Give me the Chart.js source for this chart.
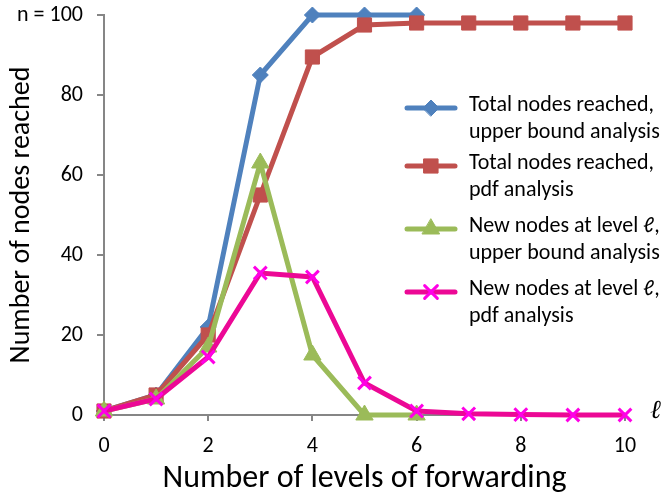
<!DOCTYPE html>
<html>
<head>
<meta charset="utf-8">
<script src="https://cdn.jsdelivr.net/npm/chart.js@4.4.0/dist/chart.umd.min.js"></script>
<style>
  html, body { margin: 0; padding: 0; background: #fff; }
  #wrap { width: 663px; height: 498px; position: relative; }
</style>
</head>
<body>
<div id="wrap"><canvas id="chart"></canvas></div>
<script>
// levels of forwarding (x axis)
const levels = [0, 1, 2, 3, 4, 5, 6, 7, 8, 9, 10];
const yTicks = [0, 20, 40, 60, 80, 100];

// series
const totalUpper = [1, 5, 22, 85, 100, 100, 100];
const totalPdf = [1, 5, 20, 55, 89.5, 97.5, 98, 98, 98, 98, 98];
const newUpper = [1, 4, 17, 63, 15, 0, 0];
const newPdf = [1, 4, 14.5, 35.5, 34.5, 8, 1, 0.3, 0.1, 0, 0];

const seriesLabels = [
  ['Total nodes reached,', 'upper bound analysis'],
  ['Total nodes reached,', 'pdf analysis'],
  ['New nodes at level \u2113,', 'upper bound analysis'],
  ['New nodes at level \u2113,', 'pdf analysis']
];

const FONT = 'Carlito, Lato, "Open Sans", sans-serif';
const AXIS = '#868686';

function pts(vals) {
  return vals.map((v, i) => ({ x: levels[i], y: v }));
}

function makeSet(i, vals, color, ptColor, style, radius, order) {
  return {
    label: seriesLabels[i].join(' '),
    data: pts(vals),
    borderColor: color,
    backgroundColor: ptColor,
    pointBackgroundColor: ptColor,
    pointBorderColor: ptColor,
    pointBorderWidth: style === 'crossRot' ? 3 : 1,
    pointStyle: style,
    pointRadius: radius,
    borderWidth: 5,
    tension: 0,
    clip: false,
    order: order
  };
}

const datasets = [
  makeSet(0, totalUpper, '#4F81BD', '#4F81BD', 'rectRot', 8, 3),
  makeSet(1, totalPdf, '#C0504D', '#C0504D', 'rect', 10, 2),
  makeSet(2, newUpper, '#9BBB59', '#9BBB59', 'triangle', 10, 1),
  makeSet(3, newPdf, '#EC0895', '#FF00E6', 'crossRot', 9, 0)
];

// legend drawn inside the plot area, two text lines per entry
const insideLegend = {
  id: 'insideLegend',
  afterDatasetsDraw(chart) {
    const ctx = chart.ctx;
    const x0 = 407, x1 = 455, tx = 469;
    const rows = [108, 166, 229, 292];
    ctx.save();
    datasets.forEach((ds, i) => {
      const y = rows[i];
      ctx.strokeStyle = ds.borderColor;
      ctx.lineWidth = 5;
      ctx.lineCap = 'round';
      ctx.beginPath();
      ctx.moveTo(x0, y);
      ctx.lineTo(x1, y);
      ctx.stroke();
      ctx.fillStyle = ds.pointBackgroundColor;
      ctx.strokeStyle = ds.pointBorderColor;
      ctx.lineWidth = ds.pointBorderWidth;
      Chart.helpers.drawPoint(ctx, { pointStyle: ds.pointStyle, radius: ds.pointRadius, rotation: 0, borderWidth: ds.pointBorderWidth }, (x0 + x1) / 2, y);
      ctx.fillStyle = '#000';
      ctx.font = '22px ' + FONT;
      ctx.textBaseline = 'middle';
      ctx.textAlign = 'left';
      ctx.fillText(seriesLabels[i][0], tx, y - 3);
      ctx.fillText(seriesLabels[i][1], tx, y + 24);
    });
    // the "l" symbol at the end of the x axis
    ctx.font = 'italic 26px "DejaVu Serif", serif';
    ctx.fillText('\u2113', chart.chartArea.right + 25, chart.chartArea.bottom - 4);
    ctx.restore();
  }
};

new Chart(document.getElementById('chart'), {
  type: 'line',
  data: { datasets: datasets },
  plugins: [insideLegend],
  options: {
    responsive: true,
    maintainAspectRatio: false,
    animation: false,
    layout: { padding: { left: 0, right: 38, top: 15, bottom: 0 } },
    plugins: { legend: { display: false }, tooltip: { enabled: false } },
    scales: {
      x: {
        type: 'linear',
        min: 0,
        max: 10,
        ticks: {
          stepSize: 2,
          color: '#000',
          font: { family: FONT, size: 22 },
          padding: 12
        },
        grid: { drawOnChartArea: false, tickLength: 6, color: AXIS, lineWidth: 2 },
        border: { color: AXIS, width: 2 },
        title: {
          display: true,
          text: 'Number of levels of forwarding',
          color: '#000',
          font: { family: FONT, size: 32 },
          padding: { top: 4, bottom: 0 }
        },
        afterFit(scale) {
          scale.height = 83;
          scale.paddingLeft = 0;
          scale.paddingRight = 0;
        }
      },
      y: {
        min: 0,
        max: 100,
        afterBuildTicks(scale) { scale.ticks = yTicks.map(v => ({ value: v })); },
        ticks: {
          color: '#000',
          font: { family: FONT, size: 22 },
          padding: 14,
          callback: v => (v === 100 ? 'n = 100' : v)
        },
        grid: { drawOnChartArea: false, tickLength: 7, color: AXIS, lineWidth: 2 },
        border: { color: AXIS, width: 2 },
        title: {
          display: true,
          text: 'Number of nodes reached',
          color: '#000',
          font: { family: FONT, size: 28 },
          padding: { top: 5, bottom: 0 }
        },
        afterFit(scale) {
          scale.width = 104;
          scale.paddingTop = 0;
          scale.paddingBottom = 0;
        }
      }
    }
  }
});
</script>
</body>
</html>
